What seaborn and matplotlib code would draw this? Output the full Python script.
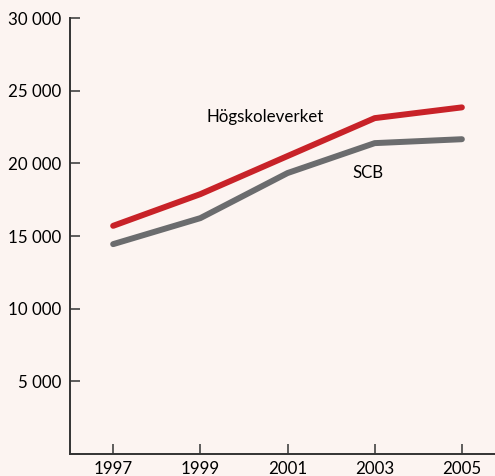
import pandas as pd
import numpy as np
import matplotlib.pyplot as plt
import seaborn as sns

years = [1997, 1999, 2001, 2003, 2005]
hsv = [15700, 17880, 20500, 23110, 23850]
scb = [14440, 16230, 19330, 21390, 21660]
ytick_vals = [5000, 10000, 15000, 20000, 25000, 30000]
ytick_labels = ['5 000', '10 000', '15 000', '20 000', '25 000', '30 000']

df = pd.DataFrame({'year': years + years,
                   'value': hsv + scb,
                   'source': ['Högskoleverket'] * 5 + ['SCB'] * 5})

bg = '#fcf4f1'
sns.set_style('white')
plt.rcParams['font.family'] = ['Lato', 'DejaVu Sans']

fig = plt.figure(figsize=(4.95, 4.76), dpi=100, facecolor=bg)
ax = fig.add_axes([70/495, 1 - 454/476, 1 - 70/495, 436/476])
ax.set_facecolor(bg)

sns.lineplot(data=df, x='year', y='value', hue='source',
             palette={'Högskoleverket': '#c82228', 'SCB': '#6b6c6e'},
             linewidth=4.3, legend=False, ax=ax)

ax.set_xlim(1996.01, 2005.76)
ax.set_ylim(0, 30000)
ax.set_xticks(years)
ax.set_xticklabels([str(y) for y in years], fontsize=12.2)
ax.set_yticks([0] + ytick_vals)
ax.set_yticklabels([''] + ytick_labels, fontsize=12.2)
ax.set_xlabel('')
ax.set_ylabel('')

for s in ['top', 'right']:
    ax.spines[s].set_visible(False)
for s in ['left', 'bottom']:
    ax.spines[s].set_color('#333333')
    ax.spines[s].set_linewidth(1.4)
ax.tick_params(axis='both', direction='in', length=7.5, width=1.1, color='#333333',
               labelcolor='#000000', bottom=True, left=True)
ax.tick_params(axis='y', pad=6)
ax.tick_params(axis='x', pad=5)

ax.text(1999.13, 23190, 'Högskoleverket', fontsize=12.2, va='center', ha='left', color='#000000')
ax.text(2002.48, 19335, 'SCB', fontsize=12.2, va='center', ha='left', color='#000000')

plt.savefig('out.png', dpi=100, facecolor=bg)
